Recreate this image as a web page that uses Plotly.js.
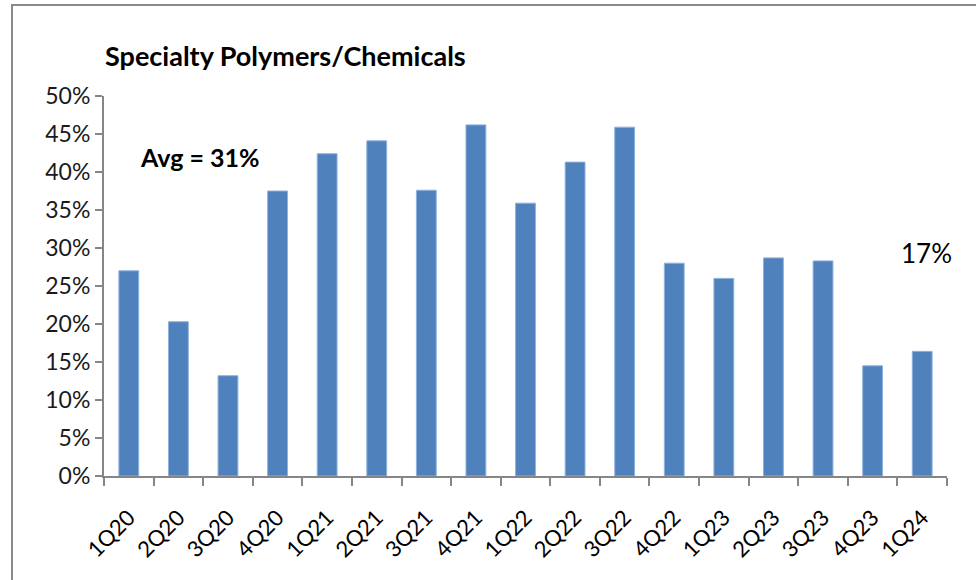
<!DOCTYPE html>
<html>
<head>
<meta charset="utf-8">
<script src="https://cdn.plot.ly/plotly-3.0.1.min.js"></script>
<style>
  html, body { margin: 0; padding: 0; background: #fff; }
  #wrap { position: relative; width: 976px; height: 580px; overflow: hidden; }
  #frame { position: absolute; left: 11px; top: 4px; width: 1000px; height: 700px;
           border-left: 2px solid #8a8a8a; border-top: 2px solid #8a8a8a; pointer-events: none; z-index: 5; }
  #chart { position: absolute; left: 0; top: 0; width: 976px; height: 580px; }
</style>
</head>
<body>
<div id="wrap">
  <div id="chart"></div>
  <div id="frame"></div>
</div>
<script>
const categories = ["1Q20","2Q20","3Q20","4Q20","1Q21","2Q21","3Q21","4Q21","1Q22","2Q22","3Q22","4Q22","1Q23","2Q23","3Q23","4Q23","1Q24"];
const values = [0.270, 0.203, 0.132, 0.375, 0.424, 0.441, 0.376, 0.462, 0.359, 0.413, 0.459, 0.280, 0.260, 0.287, 0.283, 0.145, 0.164];
const yTickVals = [0, 0.05, 0.10, 0.15, 0.20, 0.25, 0.30, 0.35, 0.40, 0.45, 0.50];
const yTickText = ["0%","5%","10%","15%","20%","25%","30%","35%","40%","45%","50%"];
const chartTitle = "Specialty Polymers/Chemicals";
const avgLabel = "Avg = 31%";
const lastLabel = "17%";

const font = "Lato, 'Open Sans', sans-serif";

Plotly.newPlot('chart', [{
  type: 'bar',
  x: categories,
  y: values,
  width: 0.4,
  marker: { color: '#4F81BD', line: { color: '#8fb1de', width: 1 } },
  hoverinfo: 'x+y'
}], {
  width: 976, height: 580,
  margin: { l: 104, r: 29, t: 96, b: 104 },
  paper_bgcolor: '#ffffff', plot_bgcolor: '#ffffff',
  showlegend: false,
  font: { family: font, color: '#1a1a1a' },
  title: { text: '<b>' + chartTitle + '</b>', x: 105 / 976, xref: 'container', xanchor: 'left',
           y: 1 - 57 / 580, yref: 'container', yanchor: 'middle',
           font: { family: font, size: 27, color: '#000' } },
  xaxis: {
    type: 'category',
    tickson: 'boundaries',
    ticks: 'outside', ticklen: 8, tickcolor: '#868686', tickwidth: 2,
    showline: true, linecolor: '#868686', linewidth: 2,
    showgrid: false, zeroline: false,
    tickangle: -45,
    ticklabelstandoff: 18,
    tickfont: { family: font, size: 22, color: '#000' },
    range: [-0.5, 16.5]
  },
  yaxis: {
    range: [0, 0.5],
    tickvals: yTickVals, ticktext: yTickText,
    ticks: 'outside', ticklen: 7, tickcolor: '#868686', tickwidth: 2,
    showline: true, linecolor: '#868686', linewidth: 2,
    showgrid: false, zeroline: false,
    tickfont: { family: font, size: 23, color: '#1a1a1a' }
  },
  annotations: [
    { xref: 'paper', yref: 'paper', x: 0.04, y: 0.84, xanchor: 'left', yanchor: 'middle',
      text: '<b>' + avgLabel + '</b>', showarrow: false, font: { family: font, size: 25, color: '#000' } },
    { xref: 'paper', yref: 'paper', x: 0.943, y: 0.587, xanchor: 'left', yanchor: 'middle',
      text: lastLabel, showarrow: false, font: { family: font, size: 26, color: '#000' } }
  ]
}, { displayModeBar: false });
</script>
</body>
</html>
